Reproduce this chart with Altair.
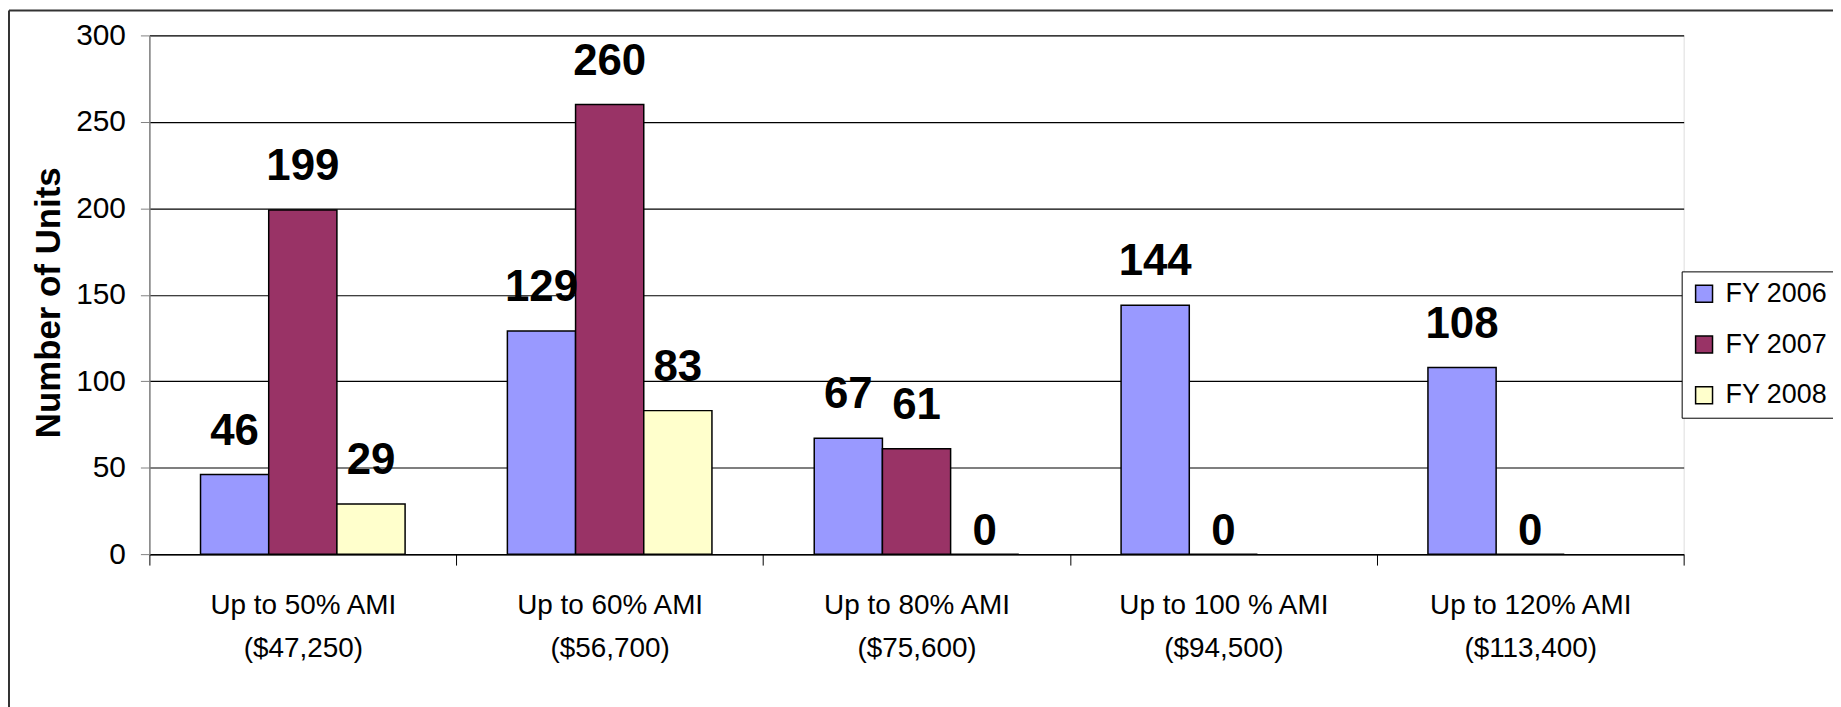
import altair as alt
import pandas as pd

# ---- data ----
ami_levels = ["Up to 50% AMI", "Up to 60% AMI", "Up to 80% AMI", "Up to 100 % AMI", "Up to 120% AMI"]
incomes = ["($47,250)", "($56,700)", "($75,600)", "($94,500)", "($113,400)"]
series = ["FY 2006", "FY 2007", "FY 2008"]
fy2006 = [46, 129, 67, 144, 108]
fy2007 = [199, 260, 61, 0, 0]
fy2008 = [29, 83, 0, None, None]
y_ticks = [0, 50, 100, 150, 200, 250, 300]
colors = ["#9999FF", "#993366", "#FFFFCC"]

categories = [a + "|" + b for a, b in zip(ami_levels, incomes)]
rows = []
for s, vals in zip(series, [fy2006, fy2007, fy2008]):
    for c, v in zip(categories, vals):
        if v is not None:
            rows.append({"category": c, "series": s, "units": v})
df = pd.DataFrame(rows)

FONT = "Liberation Sans, Arial"

x = alt.X("category:N", sort=categories,
          scale=alt.Scale(paddingInner=0, paddingOuter=0),
          axis=alt.Axis(title=None, labelAngle=0, tickBand="extent",
                        labelExpr="isValid(datum.value) && datum.label != '' ? split(datum.label, '|') : ''",
                        labelFont=FONT, labelFontSize=28, labelColor="black",
                        labelLineHeight=43, labelPadding=27, labelLimit=0,
                        tickSize=11, tickColor="black", tickWidth=1,
                        domainColor="black", domainWidth=1.5, grid=False))
xoff = alt.XOffset("series:N", sort=series,
                   scale=alt.Scale(paddingOuter=0.75, paddingInner=0))
y = alt.Y("units:Q", scale=alt.Scale(domain=[0, 300], nice=False),
          axis=alt.Axis(title="Number of Units", values=y_ticks,
                        labelFont=FONT, labelFontSize=30, labelColor="black",
                        labelPadding=15, tickSize=9, tickColor="#808080",
                        domainColor="#808080", domainWidth=1.5,
                        grid=True, gridColor="black", gridWidth=1.2,
                        titleFont=FONT, titleFontSize=35, titleFontWeight="bold",
                        titleColor="black", titleAngle=270, titleX=-101, titleY=268,
                        titleAlign="center", titleBaseline="middle"))

bars = alt.Chart(df).mark_bar(stroke="black", strokeWidth=1.5).encode(
    x=x, xOffset=xoff, y=y,
    color=alt.Color("series:N", sort=series,
                    scale=alt.Scale(domain=series, range=colors),
                    legend=alt.Legend(title=None, orient="none", legendX=1539, legendY=237,
                                      symbolType="square", symbolSize=289,
                                      symbolStrokeColor="black", symbolStrokeWidth=1.5,
                                      labelFont=FONT, labelFontSize=27, labelColor="black",
                                      labelOffset=8, rowPadding=23, padding=9,
                                      labelLimit=0,
                                      strokeColor="black", fillColor="white")),
)

labels = alt.Chart(df).transform_filter("datum.units > 0").mark_text(
    font=FONT, fontSize=44, fontWeight="bold", color="black",
    baseline="alphabetic", dy=-30).encode(
    x=alt.X("category:N", sort=categories), xOffset=alt.XOffset("series:N", sort=series),
    y="units:Q", text="units:Q")

zeros = alt.Chart(df).transform_filter("datum.units == 0").mark_text(
    font=FONT, fontSize=44, fontWeight="bold", color="black",
    baseline="alphabetic", dy=-9).encode(
    x=alt.X("category:N", sort=categories), xOffset=alt.XOffset("series:N", sort=series),
    y="units:Q", text="units:Q")

one = alt.Data(values=[{"k": 1}])
frame_top = alt.Chart(one).mark_rule(color="#333333", strokeWidth=2).encode(
    x=alt.value(-141), x2=alt.value(1720), y=alt.value(-25))
frame_left = alt.Chart(one).mark_rule(color="#333333", strokeWidth=2).encode(
    x=alt.value(-141), y=alt.value(-25), y2=alt.value(720))

chart = alt.layer(bars, labels, zeros, frame_top, frame_left).properties(
    width=1541, height=521,
    autosize=alt.AutoSizeParams(type="none"),
    padding={"left": 142, "top": 26, "right": 150, "bottom": 152},
).configure_view(stroke=None).configure(background="white")

chart.save("out.html", embed_options={"renderer": "svg", "actions": False})
